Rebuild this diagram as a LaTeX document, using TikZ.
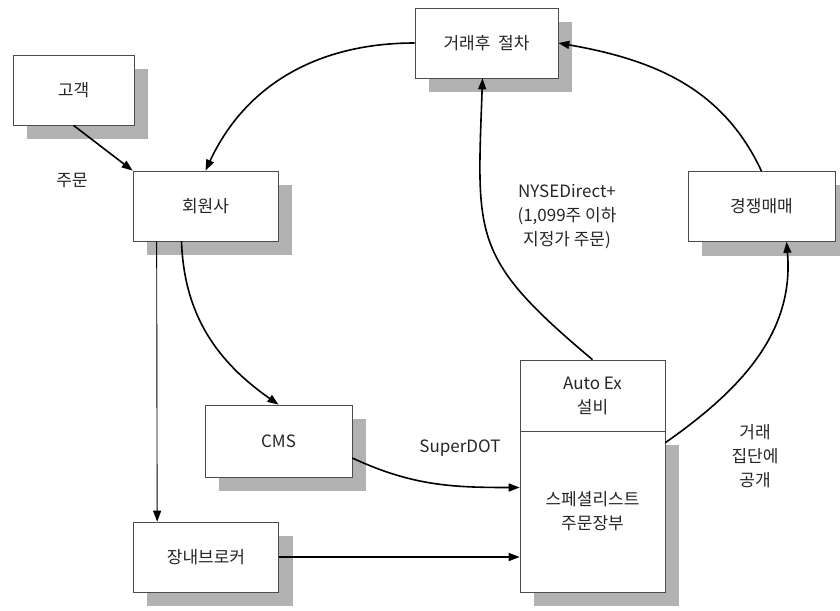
\documentclass[tikz,border=0pt]{standalone}
\usepackage{fontspec}
\setmainfont{Noto Sans CJK KR}
\usetikzlibrary{backgrounds,arrows.meta}

\begin{document}
\begin{tikzpicture}[x=1pt, y=1pt,
    box/.style = {draw=black!70,
    line width=0.7pt,
    fill=white,
    minimum width=145pt,
    minimum height=70pt,
    inner sep=0pt,
    align=center,
    text=black!85,
    font=\fontsize{17}{24}\selectfont},
    arr/.style = {-{Triangle[length=11pt,width=8pt]}, line width=1.6pt},
    lbl/.style = {align=center, text=black!85, font=\fontsize{17}{24}\selectfont}]

\useasboundingbox (0,0) rectangle (840,-610);

\node (client) at (73.5,-90) [box, minimum width=121pt] {고객};
\node (member) at (205.5,-206) [box] {회원사};
\node (post) at (486.5,-43) [box, minimum width=143pt] {거래후 \ 절차};
\node (auction) at (761.5,-206.5) [box, minimum width=147pt] {경쟁매매};
\node (cms) at (278.5,-441) [box, minimum width=147pt, minimum height=72pt] {CMS};
\node (floor) at (206,-557) [box] {장내브로커};
\node (autoex) at (592.5,-395.5) [box, minimum height=71pt] {Auto Ex\\설비};
\node (book) at (592.5,-511.5) [box, minimum height=161pt] {스페셜리스트\\주문장부};

% shadows
\begin{scope}[on background layer]
\foreach \n in {client,member,post,auction,cms,floor,book}
  \fill [black!30] ([shift={(14pt,-14pt)}]\n.south west) rectangle ([shift={(14pt,-14pt)}]\n.north east);
\end{scope}

\draw [arr] (client.south) -- (member.north west);
\draw [arr] (post.west) to[out=180, in=65] (member.north);
\draw [arr, line width=0.9pt] ([xshift=24pt]member.south west) -- ([xshift=24pt]floor.north west);
\draw [arr] ([xshift=-24pt]member.south) to[out=-88, in=145] (cms.north);
\draw [arr] ([yshift=-17pt]cms.east) to[out=-25, in=180] ([yshift=24pt]book.west);
\draw [arr] (floor.east) -- (floor.east -| book.west);
\draw [arr] (autoex.north) to[out=140, in=-92, looseness=1.35] ([xshift=-4pt]post.south);
\draw [arr] ([yshift=-12pt]book.north east) to[out=35, in=-85] ([xshift=25pt]auction.south);
\draw [arr] (auction.north) to[out=115, in=-10] (post.east);

\node (order) at (72,-180) [lbl] {주문};
\node (superdot) at (460,-448) [lbl] {SuperDOT};
\node (nyse) at (567,-217) [lbl] {NYSEDirect+\\(1,099주 이하\\지정가 주문)};
\node (publish) at (755,-456) [lbl] {거래\\집단에\\공개};

\end{tikzpicture}
\end{document}
